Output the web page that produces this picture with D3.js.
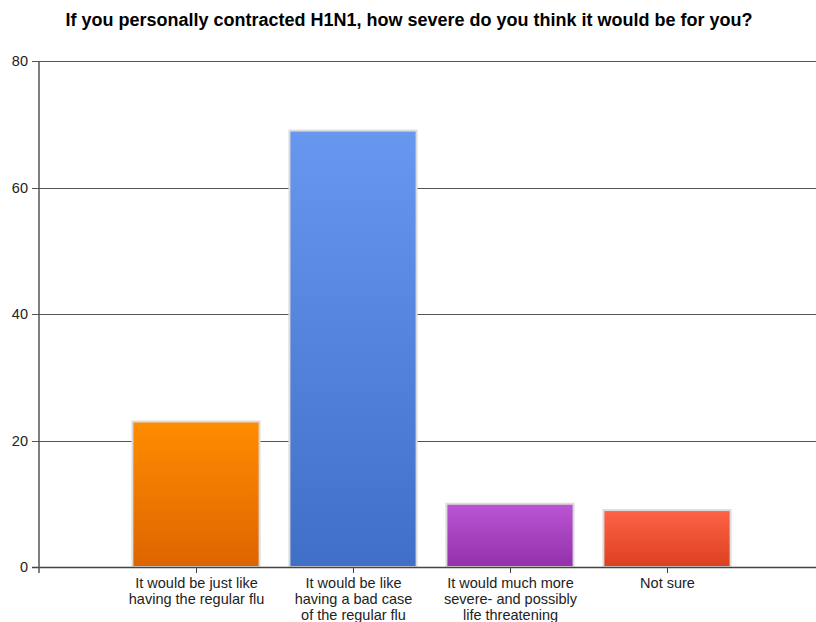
<!DOCTYPE html>
<html>
<head>
<meta charset="utf-8">
<script src="https://cdn.jsdelivr.net/npm/d3@7"></script>
<style>
  body { margin: 0; background: #fff; }
  svg text { font-family: "Liberation Sans", Arial, sans-serif; }
</style>
</head>
<body>
<div id="chart"></div>
<script>
const categories = [
  "It would be just like having the regular flu",
  "It would be like having a bad case of the regular flu",
  "It would much more severe- and possibly life threatening",
  "Not sure"
];
const labelLines = [
  ["It would be just like", "having the regular flu"],
  ["It would be like", "having a bad case", "of the regular flu"],
  ["It would much more", "severe- and possibly", "life threatening"],
  ["Not sure"]
];
const values = [23, 69, 10, 9];
const yTicks = [0, 20, 40, 60, 80];
const colorsTop = ["#ff8c00", "#6797ee", "#bb55d4", "#ff6347"];
const colorsBottom = ["#dd6500", "#3f6fc6", "#9330aa", "#dc4020"];
const title = "If you personally contracted H1N1, how severe do you think it would be for you?";

const width = 816, height = 622;
const margin = { top: 61, left: 39, bottom: 55 };

const svg = d3.select("#chart").append("svg")
    .attr("width", width)
    .attr("height", height);

// gradients for the bars
const defs = svg.append("defs");
categories.forEach((c, i) => {
    const g = defs.append("linearGradient")
        .attr("id", "grad" + i)
        .attr("x1", 0).attr("y1", 0).attr("x2", 0).attr("y2", 1);
    g.append("stop").attr("offset", "0%").attr("stop-color", colorsTop[i]);
    g.append("stop").attr("offset", "100%").attr("stop-color", colorsBottom[i]);
});

const x = d3.scalePoint()
    .domain(categories)
    .range([margin.left, margin.left + 785])
    .padding(1);

const y = d3.scaleLinear()
    .domain([0, 80])
    .range([height - margin.bottom, margin.top]);

const barW = x.step() * 0.81;

// gridlines
svg.append("g")
    .selectAll("line")
    .data(yTicks)
    .join("line")
    .attr("x1", margin.left - 7)
    .attr("x2", width)
    .attr("y1", d => Math.round(y(d)) + 0.5)
    .attr("y2", d => Math.round(y(d)) + 0.5)
    .attr("stroke", "#555")
    .attr("stroke-width", 1);

// y tick labels
svg.append("g")
    .selectAll("text")
    .data(yTicks)
    .join("text")
    .attr("x", margin.left - 11)
    .attr("y", d => y(d))
    .attr("dy", "0.35em")
    .attr("text-anchor", "end")
    .attr("font-size", 14.5)
    .attr("fill", "#222")
    .text(d => d);

// bars
svg.append("g")
    .selectAll("rect")
    .data(values)
    .join("rect")
    .attr("x", (d, i) => x(categories[i]) - barW / 2)
    .attr("y", d => y(d))
    .attr("width", barW)
    .attr("height", d => y(0) - y(d))
    .attr("fill", (d, i) => `url(#grad${i})`)
    .attr("stroke", "#dcdcdc")
    .attr("stroke-width", 2);

// x axis line
svg.append("line")
    .attr("x1", margin.left - 7)
    .attr("x2", width)
    .attr("y1", y(0) + 0.5)
    .attr("y2", y(0) + 0.5)
    .attr("stroke", "#444")
    .attr("stroke-width", 1.5);

// y axis line
svg.append("line")
    .attr("x1", margin.left)
    .attr("x2", margin.left)
    .attr("y1", y(80))
    .attr("y2", y(0) + 6)
    .attr("stroke", "#555")
    .attr("stroke-width", 1.5);

// x ticks and labels
const xg = svg.append("g");
categories.forEach((c, i) => {
    const cx = Math.round(x(c)) + 0.5;
    xg.append("line")
        .attr("x1", cx).attr("x2", cx)
        .attr("y1", y(0)).attr("y2", y(0) + 6)
        .attr("stroke", "#444");
    const t = xg.append("text")
        .attr("x", cx)
        .attr("y", y(0) + 21)
        .attr("text-anchor", "middle")
        .attr("font-size", 14.5)
        .attr("fill", "#222");
    labelLines[i].forEach((ln, j) => {
        t.append("tspan").attr("x", cx).attr("dy", j === 0 ? 0 : 16).text(ln);
    });
});

// title
svg.append("text")
    .attr("x", 409)
    .attr("y", 26)
    .attr("text-anchor", "middle")
    .attr("font-size", 18)
    .attr("font-weight", "bold")
    .attr("fill", "#000")
    .text(title);
</script>
</body>
</html>
